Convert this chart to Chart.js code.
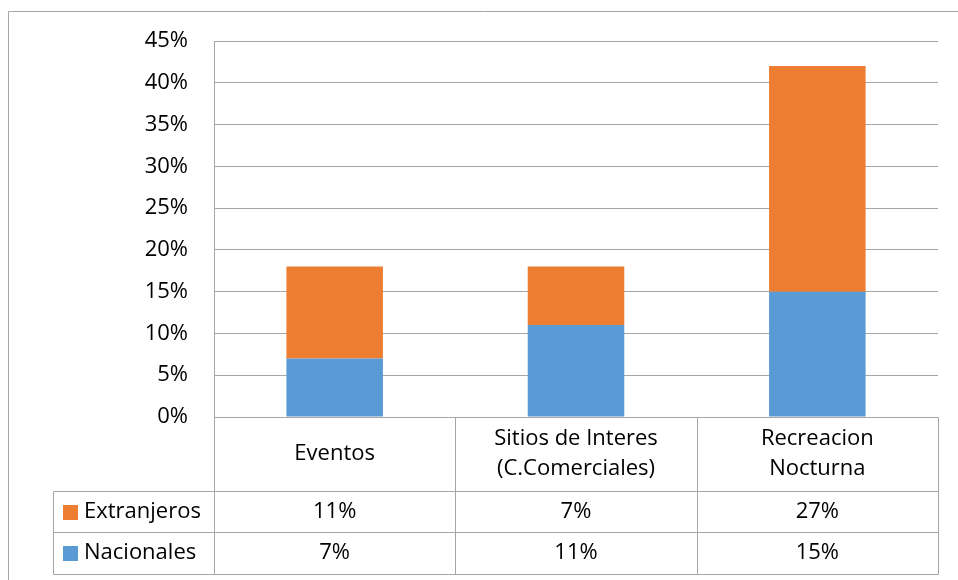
<!DOCTYPE html>
<html>
<head>
<meta charset="utf-8">
<script src="https://cdn.jsdelivr.net/npm/chart.js@4/dist/chart.umd.min.js"></script>
<style>
  body { margin: 0; background: #fff; }
  #wrap { width: 958px; height: 580px; }
</style>
</head>
<body>
<div id="wrap"><canvas id="chart" width="958" height="580"></canvas></div>
<script>
const categories = [['Eventos'], ['Sitios de Interes', '(C.Comerciales)'], ['Recreacion', 'Nocturna']];
const nacionales = [7, 11, 15];
const extranjeros = [11, 7, 27];
const yTicks = [0, 5, 10, 15, 20, 25, 30, 35, 40, 45];

const FONT = '"Open Sans", Lato, sans-serif';
const GRID = '#a6a6a6';

// data table under the plot, drawn from the chart's own scale and datasets
const dataTable = {
    id: 'dataTable',
    afterDraw(chart) {
        const ctx = chart.ctx;
        const x = chart.scales.x;
        const area = chart.chartArea;
        const n = chart.data.labels.length;
        const step = (area.right - area.left) / n;
        const catBottom = 491, row1 = 532, row2 = 574, legLeft = 53;

        ctx.save();
        ctx.strokeStyle = GRID;
        ctx.lineWidth = 1;
        const line = (x1, y1, x2, y2) => {
            ctx.beginPath();
            ctx.moveTo(Math.round(x1) + 0.5, Math.round(y1) + 0.5);
            ctx.lineTo(Math.round(x2) + 0.5, Math.round(y2) + 0.5);
            ctx.stroke();
        };
        // outer chart border
        line(8, 11, 958, 11);
        line(8, 11, 8, 580);

        line(area.left, area.bottom, area.right, area.bottom);
        line(area.left, area.top, area.left, row2);
        for (let i = 1; i <= n; i++) {
            const bx = area.left + step * i;
            line(bx, area.bottom, bx, row2);
        }
        [catBottom, row1, row2].forEach(y => line(legLeft, y, area.right, y));
        line(legLeft, catBottom, legLeft, row2);

        ctx.fillStyle = '#000';
        ctx.font = '22px ' + FONT;
        ctx.textAlign = 'center';
        ctx.textBaseline = 'middle';
        chart.data.labels.forEach((lab, i) => {
            const cx = x.getPixelForValue(i);
            const mid = (area.bottom + catBottom) / 2;
            lab.forEach((t, j) => {
                ctx.fillText(t, cx, mid + (j - (lab.length - 1) / 2) * 30);
            });
        });

        const rows = [chart.data.datasets[1], chart.data.datasets[0]];
        const tops = [catBottom, row1];
        const bottoms = [row1, row2];
        rows.forEach((ds, r) => {
            const mid = (tops[r] + bottoms[r]) / 2;
            ds.data.forEach((v, i) => {
                ctx.textAlign = 'center';
                ctx.fillStyle = '#000';
                ctx.fillText(v + '%', x.getPixelForValue(i), mid);
            });
            ctx.fillStyle = ds.backgroundColor;
            ctx.fillRect(63, Math.round(mid - 7), 15, 15);
            ctx.fillStyle = '#000';
            ctx.textAlign = 'left';
            ctx.fillText(ds.label, 84, mid);
        });
        ctx.restore();
    }
};

new Chart(document.getElementById('chart'), {
    type: 'bar',
    data: {
        labels: categories,
        datasets: [
            { label: 'Nacionales', data: nacionales, backgroundColor: '#5b9bd5' },
            { label: 'Extranjeros', data: extranjeros, backgroundColor: '#ed7d31' }
        ]
    },
    options: {
        responsive: false,
        animation: false,
        devicePixelRatio: 1,
        layout: { padding: { left: 0, top: 41, right: 20, bottom: 0 } },
        datasets: { bar: { categoryPercentage: 1, barPercentage: 0.4 } },
        plugins: { legend: { display: false }, tooltip: { enabled: false } },
        scales: {
            x: {
                stacked: true,
                grid: { display: false },
                border: { display: false },
                ticks: { display: false },
                afterFit: s => { s.height = 163; }
            },
            y: {
                stacked: true,
                min: 0,
                max: 45,
                afterBuildTicks: s => { s.ticks = yTicks.map(v => ({ value: v })); },
                grid: { color: GRID, drawTicks: false },
                border: { display: false },
                ticks: {
                    padding: 26,
                    color: '#000',
                    font: { family: FONT, size: 22 },
                    callback: v => v + '%'
                },
                afterFit: s => { s.width = 214; }
            }
        }
    },
    plugins: [dataTable]
});
</script>
</body>
</html>
